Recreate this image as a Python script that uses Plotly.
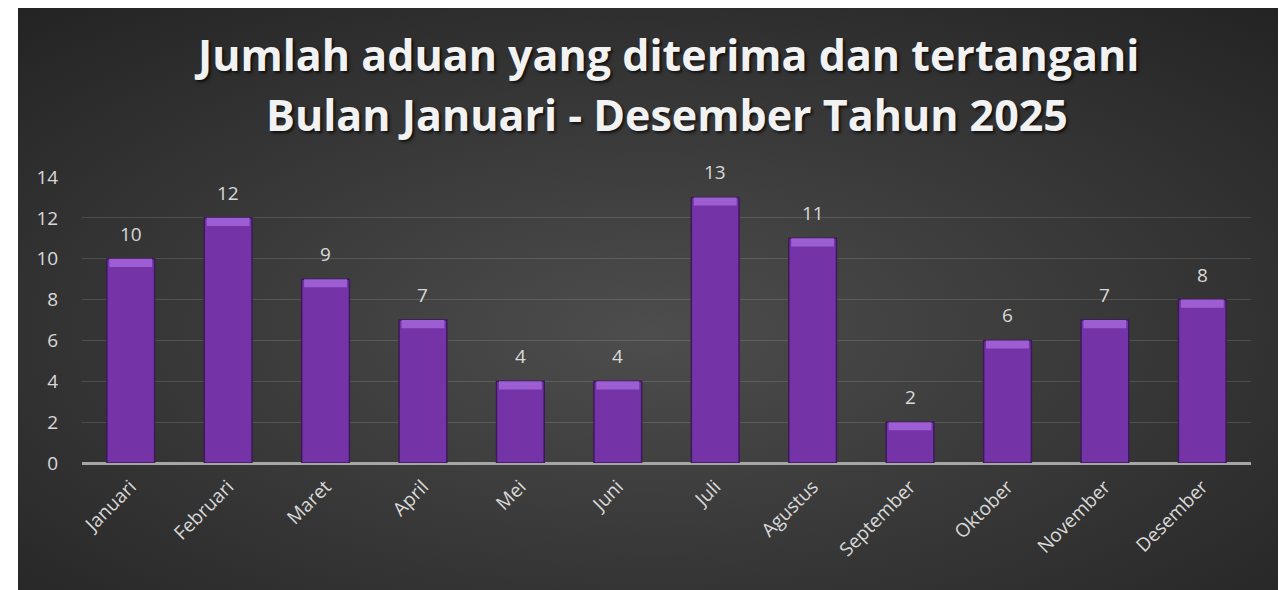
import base64
import plotly.graph_objects as go

months = ["Januari", "Februari", "Maret", "April", "Mei", "Juni", "Juli",
          "Agustus", "September", "Oktober", "November", "Desember"]
counts = [10, 12, 9, 7, 4, 4, 13, 11, 2, 6, 7, 8]
title_lines = ["Jumlah aduan yang diterima dan tertangani",
               "Bulan Januari - Desember Tahun 2025"]

W, H = 1286, 590
OFF = 8  # page offset of the figure in the screenshot
L, T = 82 - OFF, 177 - OFF
R = W - (1251 - OFF)
B = H - (463 - OFF)
pw, ph = W - L - R, H - T - B

bg_x0, bg_x1 = 18 - OFF, 1281 - OFF
bg_y0, bg_y1 = 0, H
svg = ('<svg xmlns="http://www.w3.org/2000/svg" width="1263" height="590">'
       '<defs><radialGradient id="g" cx="50%" cy="55%" r="75%">'
       '<stop offset="0" stop-color="#4d4d4d"/><stop offset="1" stop-color="#232323"/>'
       '</radialGradient></defs><rect width="1263" height="590" fill="url(#g)"/></svg>')
src = "data:image/svg+xml;base64," + base64.b64encode(svg.encode()).decode()

bevel = 0.4
fig = go.Figure()
fig.add_trace(go.Bar(x=months, y=counts, marker=dict(color="#7434A8",
                     line=dict(color="#3c1a58", width=1.5)), hoverinfo="x+y"))
fig.add_trace(go.Bar(x=months, y=[bevel] * len(counts),
                     base=[c - bevel for c in counts],
                     marker=dict(color="#9d5dd3", line=dict(width=0)),
                     width=0.44, hoverinfo="skip"))

font = "Open Sans"
annotations = []
for m, c in zip(months, counts):
    annotations.append(dict(x=m, y=c, text=str(c), showarrow=False, yshift=25,
                            font=dict(family=font, size=19, color="#d9d9d9")))
for line, ycen in zip(title_lines, [47, 106]):
    annotations.append(dict(xref="paper", yref="paper", x=0.5,
                            y=(H - B - ycen) / ph, text=line,
                            showarrow=False, yanchor="middle", xanchor="center",
                            font=dict(family=font, size=43, weight="bold", color="#f2f2f2",
                                      shadow="2px 2px 3px rgba(0,0,0,0.7)")))

fig.update_layout(
    width=W, height=H, margin=dict(l=L, r=R, t=T, b=B, pad=0),
    paper_bgcolor="white", plot_bgcolor="rgba(0,0,0,0)",
    barmode="overlay", bargap=0.51, showlegend=False,
    annotations=annotations,
    images=[dict(source=src, xref="paper", yref="paper",
                 x=(bg_x0 - L) / pw, y=(H - B - bg_y0) / ph,
                 sizex=(bg_x1 - bg_x0) / pw, sizey=(bg_y1 - bg_y0) / ph,
                 xanchor="left", yanchor="top", sizing="stretch", layer="below")],
    font=dict(family=font, color="#d9d9d9"),
)
fig.update_xaxes(tickangle=-45, tickfont=dict(size=19, color="#d9d9d9"),
                 showgrid=False, showline=False, ticks="", ticklabelstandoff=8)
fig.update_yaxes(range=[0, 14], dtick=2, tickfont=dict(size=19, color="#d9d9d9"),
                 gridcolor="rgba(255,255,255,0.13)", gridwidth=1,
                 zeroline=True, zerolinecolor="#a6a6a6", zerolinewidth=3,
                 ticks="outside", ticklen=19, tickcolor="rgba(0,0,0,0)")
fig.write_html("out.html")
